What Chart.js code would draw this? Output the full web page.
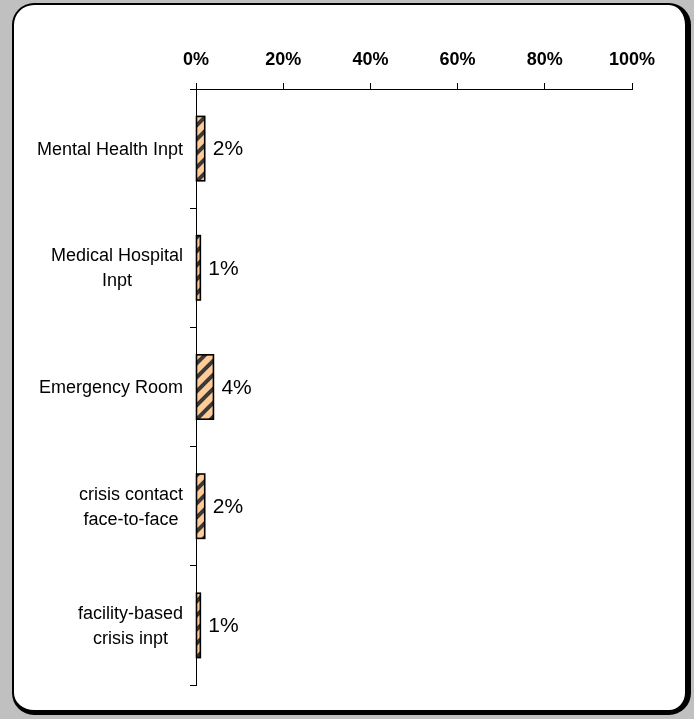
<!DOCTYPE html>
<html><head><meta charset="utf-8">
<script src="https://cdn.jsdelivr.net/npm/chart.js@4/dist/chart.umd.min.js"></script>
<style>
html,body{margin:0;padding:0;background:#c0c0c0;width:694px;height:719px;overflow:hidden;}
#panel{position:absolute;left:12px;top:3px;width:679px;height:712px;box-sizing:border-box;background:#fff;border-top:2px solid #000;border-left:2px solid #000;border-right:6px solid #000;border-bottom:5px solid #000;border-radius:22px;}
#c{position:absolute;left:0;top:0;}
</style></head>
<body>
<div id="panel"></div>
<canvas id="c" width="694" height="719"></canvas>
<script>
const categories = [["Mental Health Inpt"], ["Medical Hospital", "Inpt"], ["Emergency Room"], ["crisis contact", "face-to-face"], ["facility-based", "crisis inpt"]];
const values = [2, 1, 4, 2, 1];
const tickLabels = ["0%", "20%", "40%", "60%", "80%", "100%"];

const FONT = '"Liberation Sans", Arial, sans-serif';

function makePattern(){
  const s = 14;
  const p = document.createElement('canvas');
  p.width = s; p.height = s;
  const g = p.getContext('2d');
  g.fillStyle = '#FFCC99';
  g.fillRect(0,0,s,s);
  g.strokeStyle = '#3a3a3a';
  g.lineWidth = 4;
  g.beginPath();
  g.moveTo(-2, s+2); g.lineTo(s+2, -2);
  g.moveTo(-2-s, s+2); g.lineTo(2, -2);
  g.moveTo(s-2, s+2); g.lineTo(2*s+2, -2);
  g.stroke();
  return document.getElementById('c').getContext('2d').createPattern(p,'repeat');
}

const labelPlugin = {
  id:'vlabels',
  afterDatasetsDraw(chart){
    const ctx = chart.ctx;
    const meta = chart.getDatasetMeta(0);
    ctx.save();
    // outline each bar, centred on its edges
    ctx.strokeStyle = '#000';
    ctx.lineWidth = 1.6;
    meta.data.forEach(el=>{
      const h = el.height;
      ctx.strokeRect(el.base, el.y - h/2, el.x - el.base, h);
    });
    ctx.font = '21px ' + FONT;
    ctx.fillStyle = '#000';
    ctx.textAlign = 'left';
    ctx.textBaseline = 'middle';
    meta.data.forEach((el,i)=>{
      ctx.fillText(values[i] + '%', el.x + 8, el.y + 1);
    });
    // category labels: block right-aligned, lines centred within block
    const ys = chart.scales.y;
    const rightEdge = ys.right - 6 - 7;
    const lh = 25;
    ctx.font = '18px ' + FONT;
    ctx.textAlign = 'center';
    ctx.textBaseline = 'middle';
    categories.forEach((lines,i)=>{
      const cy = ys.getPixelForValue(i) + 1;
      const w = Math.max(...lines.map(l=>ctx.measureText(l).width));
      const cx = rightEdge - w/2;
      lines.forEach((l,j)=>{
        ctx.fillText(l, cx, cy + (j - (lines.length-1)/2) * lh);
      });
    });
    ctx.restore();
  }
};

new Chart(document.getElementById('c'), {
  type:'bar',
  data:{
    labels: categories,
    datasets:[{
      data: values,
      backgroundColor: makePattern(),
      borderWidth:0,
      categoryPercentage:1,
      barPercentage:0.54
    }]
  },
  options:{
    indexAxis:'y',
    responsive:false,
    animation:false,
    devicePixelRatio:1,
    layout:{padding:{left:0,top:0,right:62,bottom:34}},
    plugins:{legend:{display:false},tooltip:{enabled:false}},
    scales:{
      x:{
        position:'top',
        min:0,max:100,
        afterFit(s){ s.height = 89; },
        ticks:{
          stepSize:20,
          padding:12,
          color:'#000',
          font:{family:FONT, size:18, weight:'bold'},
          callback:(v,i)=>tickLabels[i]
        },
        grid:{drawOnChartArea:false, tickLength:6, color:'#000', lineWidth:1},
        border:{color:'#000', width:1}
      },
      y:{
        afterFit(s){ s.width = 196; },
        ticks:{display:false},
        grid:{drawOnChartArea:false, tickLength:6, color:'#000', lineWidth:1, offset:true},
        border:{color:'#000', width:1}
      }
    }
  },
  plugins:[labelPlugin]
});
</script>
</body></html>
